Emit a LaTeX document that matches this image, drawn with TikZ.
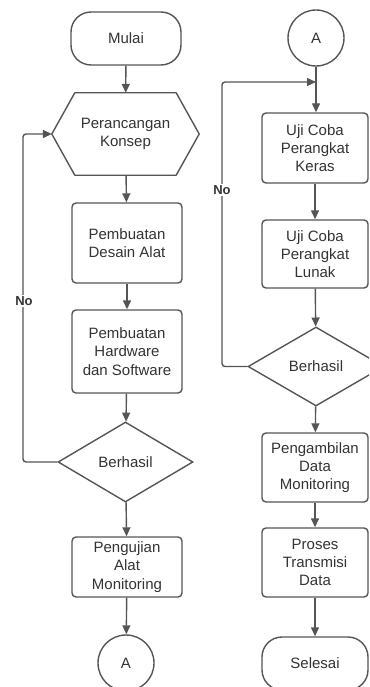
\documentclass[tikz,border=0pt]{standalone}
\usepackage{fontspec}
\setmainfont{Liberation Sans}
\usetikzlibrary{shapes.geometric,arrows.meta}
\definecolor{ln}{HTML}{555555}
\definecolor{tx}{HTML}{333333}
\begin{document}
\begin{tikzpicture}[x=1pt,y=1pt,
  every node/.style={font=\fontsize{15}{18.3}\selectfont, text=tx, align=center},
  base/.style={draw=ln, line width=1.4pt},
  procbox/.style={base, rectangle, rounded corners=4pt, inner sep=0pt},
  term/.style={base, rectangle, rounded corners=20pt, minimum width=110pt, minimum height=53pt, inner sep=0pt},
  conn/.style={base, circle, minimum size=56pt, inner sep=0pt},
  dec/.style={base, diamond, aspect=1.7, inner sep=0pt},
  flow/.style={draw=ln, line width=1.4pt, -{Triangle[length=9pt,width=8pt]}},
  line/.style={draw=ln, line width=1.4pt},
  lbl/.style={fill=white, inner sep=1pt, font=\fontsize{13}{15}\selectfont\bfseries}
]
\useasboundingbox (0,0) rectangle (369,-687);
\clip (0,0) rectangle (369,-687);
% left column
\node[term] (mulai) at (126,-38.5) {Mulai};
\node[minimum width=147pt, minimum height=82pt, inner sep=0pt] (konsep) at (125.5,-134) {Perancangan\\Konsep};
\draw[base, line join=round] (konsep.west) -- ([xshift=23pt]konsep.north west) -- ([xshift=-23pt]konsep.north east) -- (konsep.east) -- ([xshift=-23pt]konsep.south east) -- ([xshift=23pt]konsep.south west) -- cycle;
\node[procbox, minimum width=110pt, minimum height=80pt] (desain) at (127,-243) {Pembuatan\\Desain Alat};
\node[procbox, minimum width=110pt, minimum height=83pt] (hw) at (127,-351.5) {Pembuatan\\Hardware\\dan Software};
\node[dec, minimum width=135pt, minimum height=80pt] (cek1) at (125.5,-462) {Berhasil};
\node[procbox, minimum width=110pt, minimum height=60pt] (uji) at (127,-567) {Pengujian\\Alat\\Monitoring};
\node[conn] (a1) at (126,-663) {A};
% right column
\node[conn] (a2) at (316,-38) {A};
\node[procbox, minimum width=106pt, minimum height=70pt] (keras) at (315,-148) {Uji Coba\\Perangkat\\Keras};
\node[procbox, minimum width=106pt, minimum height=68pt] (lunak) at (315,-254) {Uji Coba\\Perangkat\\Lunak};
\node[dec, minimum width=136pt, minimum height=79pt] (cek2) at (316,-366.5) {Berhasil};
\node[procbox, minimum width=106pt, minimum height=69pt] (ambil) at (315,-467.5) {Pengambilan\\Data\\Monitoring};
\node[procbox, minimum width=106pt, minimum height=69pt] (trans) at (315,-562.5) {Proses\\Transmisi\\Data};
\node[term, minimum width=106pt] (selesai) at (315,-663.5) {Selesai};
% connectors left
\draw[flow] (mulai) -- (konsep);
\draw[flow] (konsep) -- (desain);
\draw[flow] (desain) -- (hw);
\draw[flow] (hw) -- (cek1);
\draw[flow] (cek1) -- (uji);
\draw[flow] (uji) -- (a1);
\coordinate (l1) at (23,-462);
\coordinate (l2) at (23,-134);
\draw[flow, rounded corners=3pt] (cek1.west) -- (l1) -- (l2) -- (konsep.west);
\node[lbl] (no1) at (24,-301) {No};
% connectors right
\coordinate (j) at (316,-82);
\draw[flow] (a2) -- ([xshift=1pt]keras.north);
\draw[flow] (keras) -- (lunak);
\draw[flow] (lunak) -- (cek2);
\draw[flow] (cek2) -- (ambil);
\draw[flow] (ambil) -- (trans);
\draw[flow] (trans) -- (selesai);
\coordinate (r1) at (222,-366.5);
\coordinate (r2) at (222,-82);
\draw[flow, rounded corners=3pt] (cek2.west) -- (r1) -- (r2) -- (j);
\node[lbl] (no2) at (222,-190) {No};
\end{tikzpicture}
\end{document}
